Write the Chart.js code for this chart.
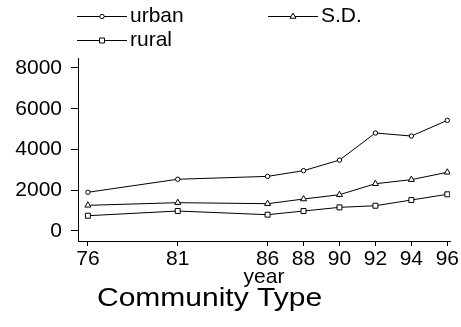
<!DOCTYPE html>
<html>
<head>
<meta charset="utf-8">
<script src="https://cdn.jsdelivr.net/npm/chart.js@4"></script>
<style>
  html, body { margin: 0; padding: 0; background: #fff; }
  #wrap { width: 461px; height: 327px; }
</style>
</head>
<body>
<div id="wrap"><canvas id="chart" width="461" height="327"></canvas></div>
<script>
const years = [76, 81, 86, 88, 90, 92, 94, 96];
const urban = [1900, 2540, 2680, 2960, 3480, 4810, 4660, 5430];
const sd = [1260, 1390, 1340, 1570, 1780, 2320, 2520, 2880];
const rural = [750, 980, 800, 980, 1160, 1240, 1520, 1800];
const yTicks = [0, 2000, 4000, 6000, 8000];
const seriesNames = ['urban', 'S.D.', 'rural'];
const xTitle = 'year';
const chartTitle = 'Community Type';

const FONT = '"Liberation Sans", Arial, sans-serif';

function pts(vals) {
    return years.map((y, i) => ({ x: y, y: vals[i] }));
}

function makeSet(label, vals, style, radius) {
    return {
        label: label,
        data: pts(vals),
        borderColor: '#000',
        borderWidth: 1,
        backgroundColor: '#fff',
        pointStyle: style,
        pointRadius: radius,
        pointBorderWidth: 1,
        pointBorderColor: '#000',
        pointBackgroundColor: '#fff',
        tension: 0,
        fill: false
    };
}

// legend + title drawn by hand, Stata style
const extras = {
    id: 'extras',
    afterDraw(chart) {
        const ctx = chart.ctx;
        const slots = [[77, 16], [268, 16], [77, 40]];
        ctx.save();
        chart.data.datasets.forEach((ds, i) => {
            const [x0, y] = slots[i];
            ctx.strokeStyle = '#000';
            ctx.lineWidth = 1;
            ctx.beginPath();
            ctx.moveTo(x0, y + 0.5);
            ctx.lineTo(x0 + 50, y + 0.5);
            ctx.stroke();
            ctx.fillStyle = '#fff';
            Chart.helpers.drawPoint(ctx, {
                pointStyle: ds.pointStyle,
                radius: ds.pointRadius,
                rotation: 0,
                borderWidth: 1
            }, x0 + 25, y + 0.5);
            ctx.fillStyle = '#000';
            ctx.font = '21px ' + FONT;
            ctx.textBaseline = 'middle';
            ctx.textAlign = 'left';
            ctx.fillText(ds.label, x0 + 53, y);
        });
        // title
        ctx.font = '25px ' + FONT;
        ctx.textBaseline = 'alphabetic';
        ctx.translate(97, 306);
        ctx.scale(1.2, 1);
        ctx.fillText(chartTitle, 0, 0);
        ctx.restore();
    }
};

new Chart(document.getElementById('chart'), {
    type: 'line',
    data: {
        datasets: [
            makeSet(seriesNames[0], urban, 'circle', 2.2),
            makeSet(seriesNames[1], sd, 'triangle', 3.5),
            makeSet(seriesNames[2], rural, 'rect', 3.5)
        ]
    },
    options: {
        responsive: false,
        animation: false,
        layout: { padding: { top: 58, right: 11, left: 0, bottom: 37 } },
        plugins: {
            legend: { display: false },
            tooltip: { enabled: false },
            title: { display: false }
        },
        scales: {
            x: {
                type: 'linear',
                min: 75.45,
                max: 96.15,
                afterBuildTicks: s => { s.ticks = years.map(v => ({ value: v })); },
                afterFit: s => { s.height = 49; },
                ticks: {
                    color: '#000',
                    font: { family: FONT, size: 21 },
                    padding: 1,
                    maxRotation: 0,
                    autoSkip: false,
                    callback: v => String(v)
                },
                grid: { drawOnChartArea: false, drawTicks: true, tickLength: 5, color: '#000' },
                border: { display: true, color: '#000', width: 1 },
                title: {
                    display: true,
                    text: xTitle,
                    color: '#000',
                    font: { family: FONT, size: 21 },
                    padding: { top: 0, bottom: 0 }
                }
            },
            y: {
                min: -491,
                max: 8490,
                afterBuildTicks: s => { s.ticks = yTicks.map(v => ({ value: v })); },
                afterFit: s => { s.width = 78; },
                ticks: {
                    color: '#000',
                    font: { family: FONT, size: 21 },
                    padding: 9,
                    callback: v => String(v)
                },
                grid: { drawOnChartArea: false, drawTicks: true, tickLength: 7, color: '#000' },
                border: { display: true, color: '#000', width: 1 }
            }
        }
    },
    plugins: [extras]
});
</script>
</body>
</html>
